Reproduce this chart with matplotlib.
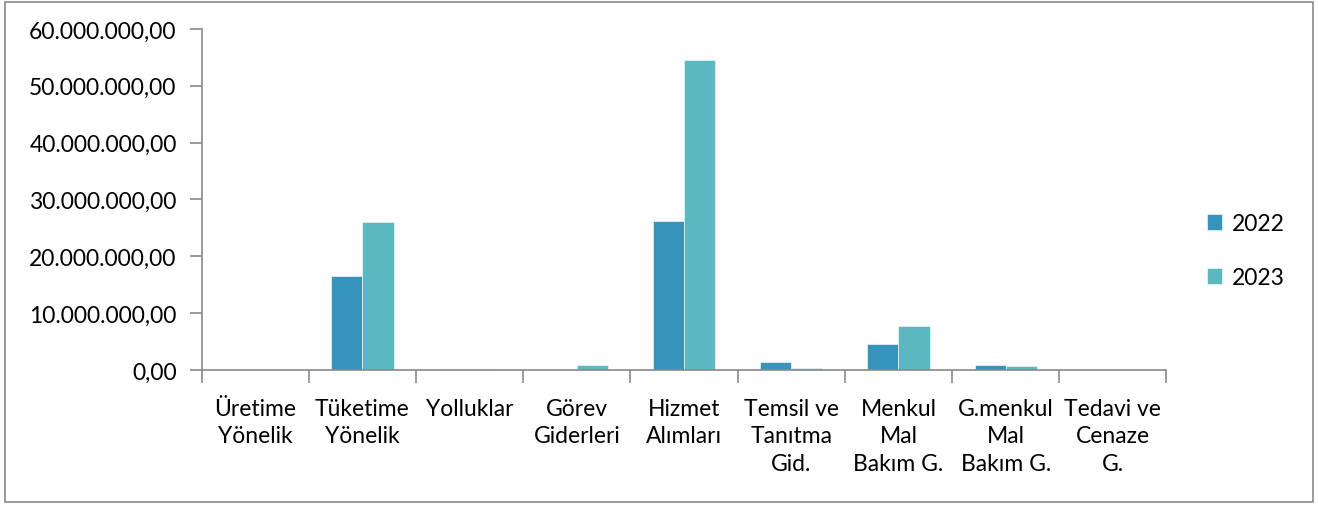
import numpy as np
import matplotlib
matplotlib.use("Agg")
import matplotlib.pyplot as plt
from matplotlib.patches import Rectangle

plt.rcParams['font.family'] = ['Lato', 'DejaVu Sans']

categories = ['Üretime\nYönelik', 'Tüketime\nYönelik', 'Yolluklar', 'Görev\nGiderleri',
              'Hizmet\nAlımları', 'Temsil ve\nTanıtma\nGid.', 'Menkul\nMal\nBakım G.',
              'G.menkul\nMal\nBakım G.', 'Tedavi ve\nCenaze\nG.']
v2022 = [0, 16500000, 100000, 50000, 26200000, 1400000, 4600000, 900000, 0]
v2023 = [0, 26000000, 100000, 900000, 54500000, 300000, 7700000, 700000, 0]
series = ['2022', '2023']
COL = {'2022': '#3593BC', '2023': '#5BB7C0'}
AXC = '#898989'
FS = 16.5


def fmt(v, _=None):
    s = f"{v:,.2f}"
    return s.replace(',', 'X').replace('.', ',').replace('X', '.')


fig = plt.figure(figsize=(13.18, 5.06), dpi=100)
fig.patches.append(Rectangle((0.004, 0.006), 0.992, 0.988, transform=fig.transFigure,
                             fill=False, ec=AXC, lw=1.2))
ax = fig.add_axes([0.153, 0.267, 0.732, 0.674])

x = np.arange(len(categories))
w = 0.29
ax.bar(x - w / 2, v2022, w, color=COL['2022'], ec='white', lw=0.4, label='2022')
ax.bar(x + w / 2, v2023, w, color=COL['2023'], ec='white', lw=0.4, label='2023')

ax.set_xlim(-0.5, len(categories) - 0.5)
ax.set_ylim(0, 60000000)
ax.set_yticks(np.arange(0, 60000001, 10000000))
ax.yaxis.set_major_formatter(plt.FuncFormatter(fmt))
ax.set_xticks(x)
ax.set_xticklabels(categories, fontsize=FS, linespacing=1.38)
ax.set_xticks(np.arange(-0.5, len(categories)), minor=True)
ax.tick_params(axis='x', which='major', length=0, pad=20)
ax.tick_params(axis='x', which='minor', length=9, color=AXC, width=1.2)
ax.tick_params(axis='y', length=9, color=AXC, width=1.2, labelsize=FS, pad=9)
for s in ['top', 'right']:
    ax.spines[s].set_visible(False)
for s in ['left', 'bottom']:
    ax.spines[s].set_color(AXC)
    ax.spines[s].set_linewidth(1.2)

ax.legend(loc='center left', bbox_to_anchor=(1.021, 0.35), frameon=False, fontsize=FS,
          handlelength=0.65, handleheight=0.65, labelspacing=1.45, handletextpad=0.4)

fig.savefig('out.png', dpi=100)
